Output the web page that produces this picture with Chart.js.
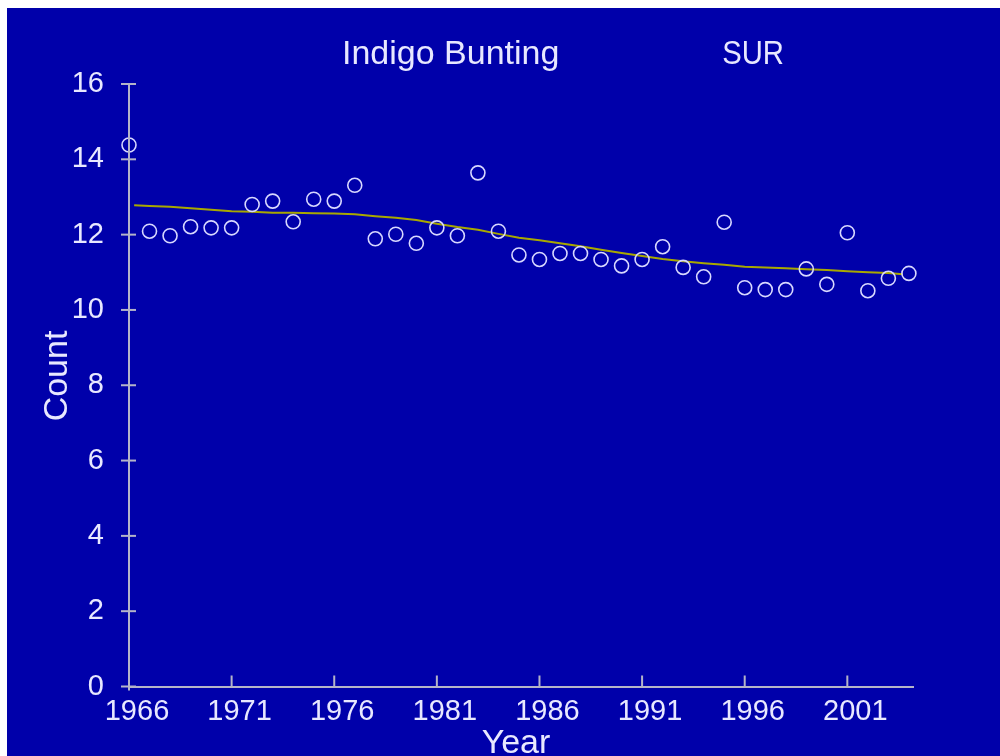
<!DOCTYPE html>
<html>
<head>
<meta charset="utf-8">
<script src="https://cdn.jsdelivr.net/npm/chart.js@4.4.1/dist/chart.umd.min.js"></script>
<style>
  html, body { margin: 0; padding: 0; background: #ffffff; }
  #wrap { position: absolute; left: 0; top: 0; width: 1000px; height: 756px; }
</style>
</head>
<body>
<div id="wrap"><canvas id="c" width="1000" height="756"></canvas></div>
<script>
// ---- data ----
const years = [1966,1967,1968,1969,1970,1971,1972,1973,1974,1975,1976,1977,1978,1979,1980,
  1981,1982,1983,1984,1985,1986,1987,1988,1989,1990,1991,1992,1993,1994,1995,1996,1997,1998,
  1999,2000,2001,2002,2003,2004];
const counts = [14.38,12.09,11.97,12.21,12.18,12.18,12.80,12.89,12.34,12.94,12.89,13.31,11.89,
  12.01,11.77,12.18,11.97,13.64,12.09,11.46,11.34,11.50,11.50,11.34,11.17,11.34,11.68,11.13,
  10.88,12.33,10.59,10.54,10.54,11.09,10.68,12.05,10.51,10.84,10.97];
const trendYears = [1966.25,1967,1968,1969,1970,1971,1972,1973,1974,1975,1976,1977,1978,1979,1980,
  1981,1982,1983,1984,1985,1986,1987,1988,1989,1990,1991,1992,1993,1994,1995,1996,1997,1998,
  1999,2000,2001,2002,2003,2003.7];
const trend = [12.78,12.76,12.74,12.70,12.66,12.62,12.61,12.58,12.58,12.57,12.56,12.54,12.49,
  12.45,12.39,12.29,12.20,12.13,12.02,11.92,11.85,11.77,11.69,11.60,11.51,11.43,11.35,11.29,
  11.24,11.20,11.15,11.13,11.11,11.08,11.06,11.03,11.00,10.98,10.95];
const xTickYears = [1966,1971,1976,1981,1986,1991,1996,2001];
const yTickValues = [0,2,4,6,8,10,12,14,16];
const titleSpecies = "Indigo Bunting";
const titleRegion = "SUR";
const xTitle = "Year";
const yTitle = "Count";

// ---- styles ----
const BG = '#0000aa';
const AXIS = '#b4b4c8';
const TEXT = '#e8e8ff';
const MARK = '#d8d8ff';
const TREND = '#a8a800';
const FONT = "'Liberation Sans', Arial, sans-serif";

const decor = {
  id: 'decor',
  beforeDraw(chart) {
    const ctx = chart.ctx;
    ctx.save();
    ctx.fillStyle = '#ffffff';
    ctx.fillRect(0, 0, chart.width, chart.height);
    ctx.fillStyle = BG;
    ctx.fillRect(7, 8, chart.width - 7, chart.height - 8);
    ctx.restore();
  },
  afterDraw(chart) {
    const ctx = chart.ctx;
    const xs = chart.scales.x, ys = chart.scales.y;
    const a = chart.chartArea;
    ctx.save();
    ctx.strokeStyle = AXIS;
    ctx.lineWidth = 2;
    const x0 = xs.getPixelForValue(years[0]);
    // y axis line (slightly extended below zero)
    ctx.beginPath();
    ctx.moveTo(x0, a.top);
    ctx.lineTo(x0, a.bottom + 4);
    ctx.stroke();
    // y tick crosses
    yTickValues.forEach(v => {
      const y = ys.getPixelForValue(v);
      ctx.beginPath();
      ctx.moveTo(x0 - 8, y);
      ctx.lineTo(x0 + 7, y);
      ctx.stroke();
    });
    // x ticks upward
    xTickYears.forEach(v => {
      const x = xs.getPixelForValue(v);
      const y0 = ys.getPixelForValue(0);
      ctx.beginPath();
      ctx.moveTo(x, y0);
      ctx.lineTo(x, y0 - 11);
      ctx.stroke();
    });
    // titles
    ctx.fillStyle = TEXT;
    ctx.font = '34px ' + FONT;
    ctx.textBaseline = 'alphabetic';
    ctx.textAlign = 'left';
    ctx.fillText(titleSpecies, 342, 64);
    ctx.textAlign = 'center';
    ctx.save();
    ctx.translate(753, 64);
    ctx.scale(0.86, 1);
    ctx.fillText(titleRegion, 0, 0);
    ctx.restore();
    ctx.fillText(xTitle, 516, 753);
    ctx.translate(67, 376);
    ctx.rotate(-Math.PI / 2);
    ctx.fillText(yTitle, 0, 0);
    ctx.restore();
  }
};

new Chart(document.getElementById('c'), {
  type: 'scatter',
  data: {
    datasets: [
      {
        type: 'line',
        label: 'trend',
        data: trendYears.map((y, i) => ({ x: y, y: trend[i] })),
        borderColor: TREND,
        borderWidth: 2,
        pointRadius: 0,
        tension: 0,
        fill: false,
        order: 2
      },
      {
        label: 'count',
        data: years.map((y, i) => ({ x: y, y: counts[i] })),
        pointStyle: 'circle',
        pointRadius: 7,
        pointBorderColor: MARK,
        pointBackgroundColor: 'rgba(0,0,0,0)',
        pointBorderWidth: 1.6,
        showLine: false,
        order: 1
      }
    ]
  },
  options: {
    responsive: false,
    animation: false,
    devicePixelRatio: 1,
    clip: false,
    layout: { padding: { left: 0, right: 87, top: 84, bottom: 0 } },
    plugins: { legend: { display: false }, tooltip: { enabled: false }, title: { display: false } },
    scales: {
      x: {
        type: 'linear',
        min: 1966,
        max: 2004.2,
        afterBuildTicks: s => { s.ticks = xTickYears.map(v => ({ value: v })); },
        afterFit: s => { s.height = 69.5; },
        grid: { display: false, drawTicks: false },
        border: { display: true, color: AXIS, width: 2 },
        ticks: {
          color: TEXT,
          font: { family: FONT, size: 29 },
          padding: 8,
          labelOffset: 8,
          maxRotation: 0,
          autoSkip: false,
          callback: v => String(v)
        }
      },
      y: {
        type: 'linear',
        min: 0,
        max: 16,
        afterBuildTicks: s => { s.ticks = yTickValues.map(v => ({ value: v })); },
        afterFit: s => { s.width = 129; },
        grid: { display: false, drawTicks: false },
        border: { display: false },
        ticks: {
          color: TEXT,
          font: { family: FONT, size: 29 },
          padding: 25,
          callback: v => String(v)
        }
      }
    }
  },
  plugins: [decor]
});
</script>
</body>
</html>
